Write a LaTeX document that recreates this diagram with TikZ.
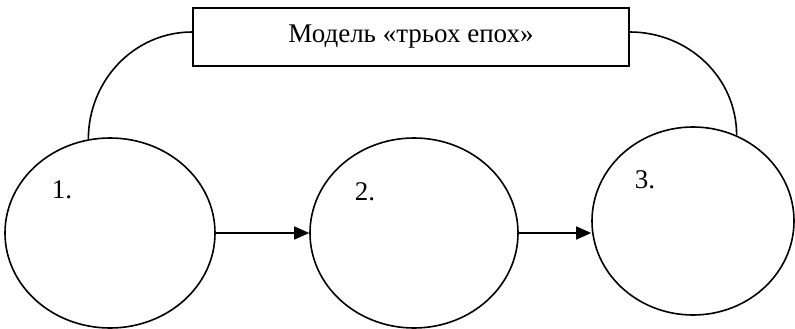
\documentclass[tikz,border=0pt]{standalone}
\usepackage{fontspec}
\setmainfont{Liberation Serif}
\usetikzlibrary{shapes.geometric,arrows.meta}
\tikzset{
  epoch/.style={draw,ellipse,line width=1.6pt,inner sep=0pt,minimum width=210pt,minimum height=190pt},
  title/.style={draw,rectangle,line width=1.6pt,minimum width=436pt,minimum height=58pt},
  num/.style={inner sep=0pt}
}
\begin{document}
\begin{tikzpicture}[x=1pt,y=-1pt,font=\fontsize{27}{31}\selectfont]
  \useasboundingbox (0,0) rectangle (795,329);
  \node[title] (box) at (411,37) {Модель «трьох епох»};
  \node[epoch] (e1) at (110,233) {};
  \node[epoch,minimum width=208pt] (e2) at (414,233) {};
  \node[epoch,minimum width=202pt,minimum height=188pt] (e3) at (693,221) {};
  \node[num] (n1) at (62,190) {1.};
  \node[num] (n2) at (365,192) {2.};
  \node[num] (n3) at (645,180) {3.};
  \draw[line width=1.6pt] (e1.103) to[out=90,in=180] ([yshift=5pt]box.west);
  \draw[line width=1.6pt] ([yshift=5pt]box.east) to[out=0,in=90] (e3.63);
  \draw[line width=1.6pt,-{Triangle[length=15pt,width=13pt]}] (e1.east) -- (e2.west);
  \draw[line width=1.6pt,-{Triangle[length=15pt,width=13pt]}] (e2.east) -- (e3.west |- e2.east);
\end{tikzpicture}
\end{document}
